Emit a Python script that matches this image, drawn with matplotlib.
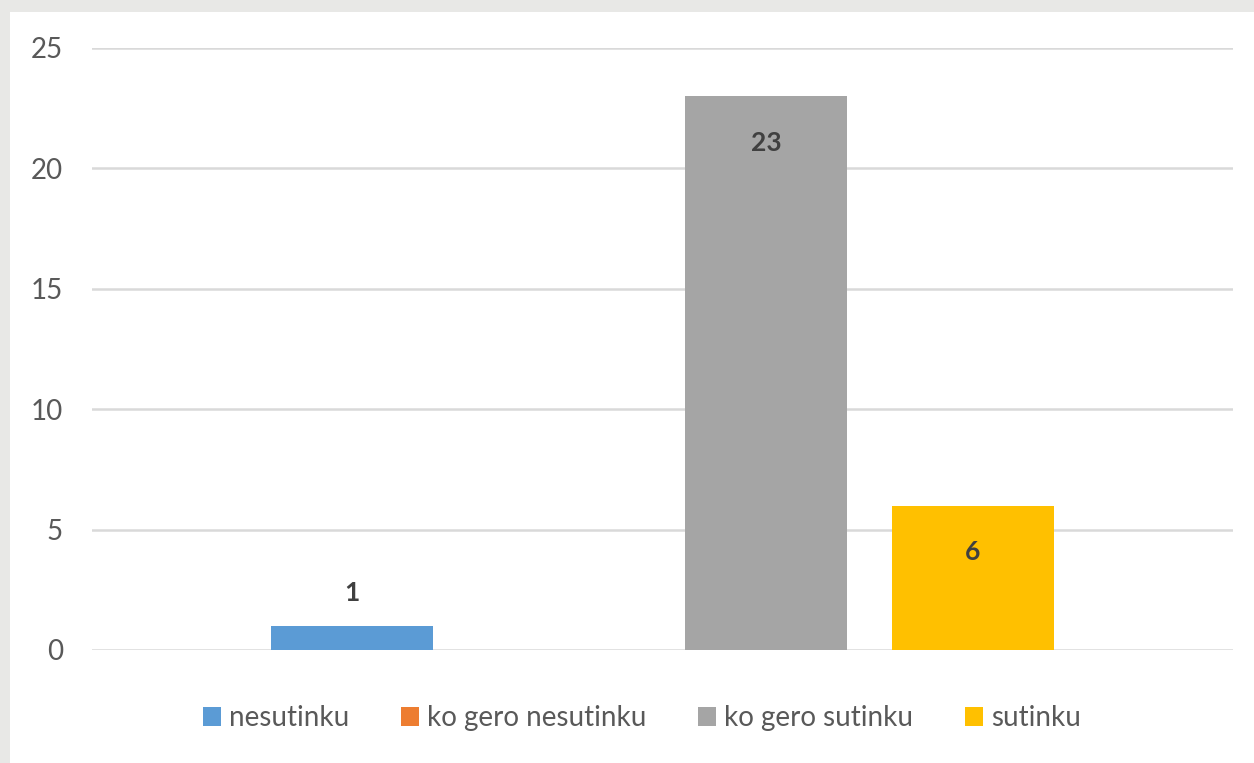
import numpy as np
from matplotlib import pyplot as plt
from matplotlib.patches import Rectangle

# Data
series = ['nesutinku', 'ko gero nesutinku', 'ko gero sutinku', 'sutinku']
values = [1, 0, 23, 6]
colors = ['#5B9BD5', '#ED7D31', '#A5A5A5', '#FFC000']
yticks = [0, 5, 10, 15, 20, 25]

plt.rcParams['font.family'] = ['Lato', 'DejaVu Sans']

fig = plt.figure(figsize=(12.54, 7.63), dpi=100)
fig.patch.set_facecolor('#E8E8E6')
# white chart area inside the gray frame
fig.patches.append(Rectangle((10/1254, 0), 1 - 10/1254, 1 - 12/763,
                             transform=fig.transFigure, facecolor='white',
                             edgecolor='none', zorder=-10))

ax = fig.add_axes([92/1254, 1 - 650/763, (1233-92)/1254, (650-48)/763])
ax.set_facecolor('white')

step = 207/1141
width = 162/1141
for i in range(len(series)):
    x = (i - 1.5) * step
    ax.bar(x, values[i], width, color=colors[i], label=series[i], zorder=3)
    if values[i] > 0:
        if values[i] > 3:
            ax.text(x, values[i] - 1.95, str(values[i]), ha='center', va='center',
                    fontsize=19, fontweight='bold', color='#404040', zorder=4)
        else:
            ax.text(x, values[i] + 1.35, str(values[i]), ha='center', va='center',
                    fontsize=19, fontweight='bold', color='#404040', zorder=4)

ax.set_xlim(-0.5, 0.5)
ax.set_ylim(0, 25)
ax.set_yticks(yticks)
ax.set_xticks([])
ax.grid(axis='y', color='#D9D9D9', linewidth=1.8, zorder=0)
for s in ax.spines.values():
    s.set_visible(False)
ax.tick_params(axis='y', length=0, pad=21, labelsize=20, labelcolor='#595959')

ax.legend(loc='center', bbox_to_anchor=(0.482, -0.113), ncol=4, frameon=False,
          fontsize=20, labelcolor='#595959', handlelength=0.65, handleheight=0.65,
          handletextpad=0.3, columnspacing=1.85)

plt.savefig('out.png', dpi=100)
